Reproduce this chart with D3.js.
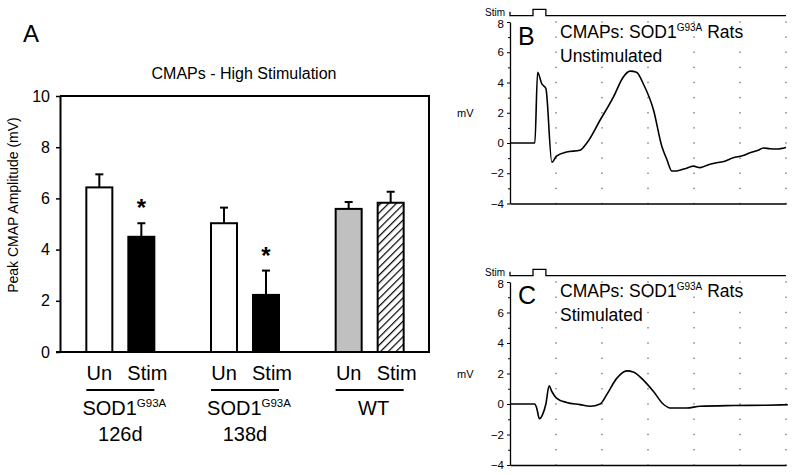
<!DOCTYPE html>
<html><head><meta charset="utf-8">
<script src="https://cdn.jsdelivr.net/npm/d3@7"></script>
<style>
body{margin:0;background:#fff;}
text{font-family:"Liberation Sans",Arial,sans-serif;fill:#000;}
</style></head>
<body><svg id="c" width="800" height="475"></svg>
<script>
// ---- Panel A data ----
const groups = ["SOD1 126d", "SOD1 138d", "WT"];
const conditions = ["Un", "Stim"];
const means = [6.43, 4.50, 5.03, 2.23, 5.59, 5.83];
const errs  = [0.51, 0.53, 0.61, 0.95, 0.27, 0.43];
const signif = [false, true, false, true, false, false];
const yTicksA = [0, 2, 4, 6, 8, 10];
const groupLine1 = ["SOD1", "SOD1", "WT"];
const groupSup = ["G93A", "G93A", ""];
const groupLine2 = ["126d", "138d", ""];

// ---- Panel B/C trace data (x in grid divisions, y in mV) ----
const traceB_t = [0, 0.54, 0.6, 0.69, 0.78, 0.91, 1.01, 1.23, 1.52, 1.67, 1.96, 2.25, 2.46, 2.61, 2.75, 2.9, 3.12, 3.3, 3.41, 3.52, 3.62, 3.8, 3.99, 4.13, 4.3, 4.49, 4.67, 4.85, 5.05, 5.22, 5.38, 5.51, 5.65, 5.8, 6.0];
const traceB_v = [0, 0, 4.68, 3.92, 3.6, -1.27, -0.87, -0.6, -0.48, 0, 1.52, 3.05, 4.35, 4.75, 4.68, 3.9, 2.18, -0.22, -1.09, -1.85, -1.85, -1.7, -1.53, -1.63, -1.45, -1.31, -1.2, -0.98, -0.85, -0.65, -0.5, -0.33, -0.38, -0.4, -0.3];
const traceC_t = [0, 0.54, 0.58, 0.64, 0.71, 0.78, 0.85, 0.91, 1.01, 1.23, 1.52, 1.74, 1.96, 2.1, 2.32, 2.54, 2.68, 2.9, 3.12, 3.33, 3.48, 3.84, 4.13, 4.85, 5.58, 6.04];
const traceC_v = [0, 0, -0.26, -0.97, -0.68, 0, 1.2, 0.82, 0.39, 0.1, -0.04, -0.15, 0, 0.6, 1.68, 2.17, 2.1, 1.57, 0.82, 0, -0.26, -0.26, -0.15, -0.1, -0.08, -0.05];
const yTicksBC = [-4, -2, 0, 2, 4, 6, 8];
const yMinorBC = [-3, -1, 1, 3, 5, 7];
const gridDivs = [1, 2, 3, 4, 5, 6];
const stimPulse = [0.5, 0.78];

const svg = d3.select("#c");

// ================= Panel A =================
const yA = d3.scaleLinear().domain([0, 10]).range([352, 96]);
const xG = d3.scaleBand().domain(groups).range([58, 432]);
const xC = d3.scaleBand().domain(conditions).range([-34, 34]).paddingInner(0.381);

const defs = svg.append("defs");
const pat = defs.append("pattern").attr("id", "hatch").attr("patternUnits", "userSpaceOnUse")
  .attr("width", 5.5).attr("height", 5.5).attr("patternTransform", "rotate(45)");
pat.append("rect").attr("width", 5.5).attr("height", 5.5).attr("fill", "#fff");
pat.append("line").attr("x1", 0).attr("y1", 0).attr("x2", 0).attr("y2", 5.5)
  .attr("stroke", "#000").attr("stroke-width", 2.4);

const A = svg.append("g");
A.append("text").attr("x", 23).attr("y", 42).attr("font-size", 24).text("A");
A.append("text").attr("x", 244).attr("y", 79).attr("text-anchor", "middle").attr("font-size", 16).text("CMAPs - High Stimulation");
A.append("text").attr("transform", "translate(18,205) rotate(-90)").attr("text-anchor", "middle")
  .attr("font-size", 14).text("Peak CMAP Amplitude (mV)");

// frame
A.append("path").attr("d", `M${60},${yA(10)}H${429}V${yA(0)}`).attr("fill", "none").attr("stroke", "#000").attr("stroke-width", 2);
A.append("line").attr("x1", 56).attr("x2", 430).attr("y1", yA(0)).attr("y2", yA(0)).attr("stroke", "#000").attr("stroke-width", 2);

const axA = A.append("g").attr("transform", "translate(60,0)")
  .call(d3.axisLeft(yA).tickValues(yTicksA).tickSize(4).tickSizeOuter(0).tickPadding(6));
axA.select(".domain").attr("stroke-width", 2);
axA.selectAll("line").attr("stroke-width", 1.5);
axA.selectAll("text").attr("font-size", 16).style("font-family", '"Liberation Sans",Arial,sans-serif');

const fills = ["#fff", "#000", "#fff", "#000", "#c0c0c0", "url(#hatch)"];
const bars = [];
groups.forEach((g, gi) => conditions.forEach((c, ci) => {
  const i = gi * 2 + ci;
  bars.push({g, c, i, v: means[i], e: errs[i], s: signif[i], x: xG(g) + xG.bandwidth() / 2 + xC(c)});
}));
const bw = xC.bandwidth();
// error bars
bars.forEach(b => {
  const cx = b.x + bw / 2;
  A.append("line").attr("x1", cx).attr("x2", cx).attr("y1", yA(b.v)).attr("y2", yA(b.v + b.e)).attr("stroke", "#000").attr("stroke-width", 2);
  A.append("line").attr("x1", cx - 4).attr("x2", cx + 4).attr("y1", yA(b.v + b.e)).attr("y2", yA(b.v + b.e)).attr("stroke", "#000").attr("stroke-width", 2);
  if (b.s) A.append("text").attr("x", cx).attr("y", yA(b.v + b.e) - 7).attr("text-anchor", "middle")
    .attr("font-size", 24).attr("font-weight", "bold").text("*");
});
A.selectAll("rect.bar").data(bars).join("rect").attr("class", "bar")
  .attr("x", d => d.x).attr("width", bw).attr("y", d => yA(d.v)).attr("height", d => yA(0) - yA(d.v))
  .attr("fill", (d) => fills[d.i]).attr("stroke", "#000").attr("stroke-width", 2);

// condition labels
bars.forEach(b => {
  A.append("text").attr("x", b.x + bw / 2 + (b.c === "Stim" ? 6 : 0)).attr("y", 380).attr("text-anchor", "middle")
    .attr("font-size", 20).text(b.c);
});
groups.forEach((g, gi) => {
  const cx = xG(g) + xG.bandwidth() / 2;
  A.append("line").attr("x1", cx + xC("Un") + 0).attr("x2", cx + xC("Stim") + bw).attr("y1", 390).attr("y2", 390)
    .attr("stroke", "#000").attr("stroke-width", 2);
  const t = A.append("text").attr("x", cx + 4).attr("y", 415).attr("text-anchor", "middle").attr("font-size", 20);
  t.append("tspan").text(groupLine1[gi]);
  if (groupSup[gi]) t.append("tspan").attr("font-size", 11.5).attr("dy", -8).text(groupSup[gi]);
  if (groupLine2[gi]) A.append("text").attr("x", cx).attr("y", 441).attr("text-anchor", "middle").attr("font-size", 20).text(groupLine2[gi]);
});

// ================= Panels B & C =================
const xT = d3.scaleLinear().domain([0, 6]).range([510, 786]);
function tracePanel(top, bottom, stimY, letter, titleY, subtitle, tt, vv) {
  const y = d3.scaleLinear().domain([-4, 8]).range([bottom, top]);
  const g = svg.append("g");
  // dotted grid
  gridDivs.forEach(d => {
    d3.range(-4, 9).forEach(v => {
      g.append("rect").attr("x", xT(d) - 0.7).attr("y", y(v) - 0.7).attr("width", 1.4).attr("height", 1.4).attr("fill", "#777");
    });
  });
  // axes
  const ax = g.append("g").attr("transform", `translate(${xT(0)},0)`)
    .call(d3.axisLeft(y).tickValues(yTicksBC).tickSize(3).tickSizeOuter(0).tickPadding(3));
  ax.selectAll("text").attr("font-size", 11.5).style("font-family", '"Liberation Sans",Arial,sans-serif');
  ax.selectAll(".tick").filter(d => d === 8).select("text").attr("dy", "0.32em").attr("y", 2);
  ax.select(".domain").attr("stroke-width", 1.3);
  g.append("g").attr("transform", `translate(${xT(0)},0)`)
    .call(d3.axisLeft(y).tickValues(yMinorBC).tickSize(2).tickFormat(""))
    .select(".domain").remove();
  const bx = g.append("g").attr("transform", `translate(0,${bottom})`)
    .call(d3.axisBottom(xT).tickValues([]).tickSizeOuter(0));
  bx.select(".domain").attr("stroke-width", 1.3);
  g.append("text").attr("x", 457).attr("y", y(2) + 4).attr("font-size", 11).text("mV");
  // stim line
  g.append("path").attr("d", `M${xT(0)},${stimY - 4}V${stimY}H${xT(stimPulse[0])}V${stimY - 6.3}H${xT(stimPulse[1])}V${stimY}H${xT(6)}`)
    .attr("fill", "none").attr("stroke", "#000").attr("stroke-width", 1.3);
  g.append("text").attr("x", 505).attr("y", stimY).attr("text-anchor", "end").attr("font-size", 10).text("Stim");
  // labels
  g.append("text").attr("x", 518).attr("y", titleY + 7).attr("font-size", 25).text(letter);
  const t = g.append("text").attr("x", 560).attr("y", titleY).attr("font-size", 17.5);
  t.append("tspan").text("CMAPs: SOD1");
  t.append("tspan").attr("font-size", 10).attr("dy", -7).text("G93A");
  t.append("tspan").attr("dy", 7).text(" Rats");
  g.append("text").attr("x", 560).attr("y", titleY + 24).attr("font-size", 17.5).text(subtitle);
  // trace
  const pts = tt.map((t, i) => [t, vv[i]]);
  g.append("path").datum(pts).attr("d", d3.line().x(d => xT(d[0])).y(d => y(d[1])).curve(d3.curveMonotoneX))
    .attr("fill", "none").attr("stroke", "#000").attr("stroke-width", 1.6);
}
tracePanel(22, 203.5, 15.7, "B", 38, "Unstimulated", traceB_t, traceB_v);
tracePanel(282, 465, 275.7, "C", 297, "Stimulated", traceC_t, traceC_v);
</script></body></html>
